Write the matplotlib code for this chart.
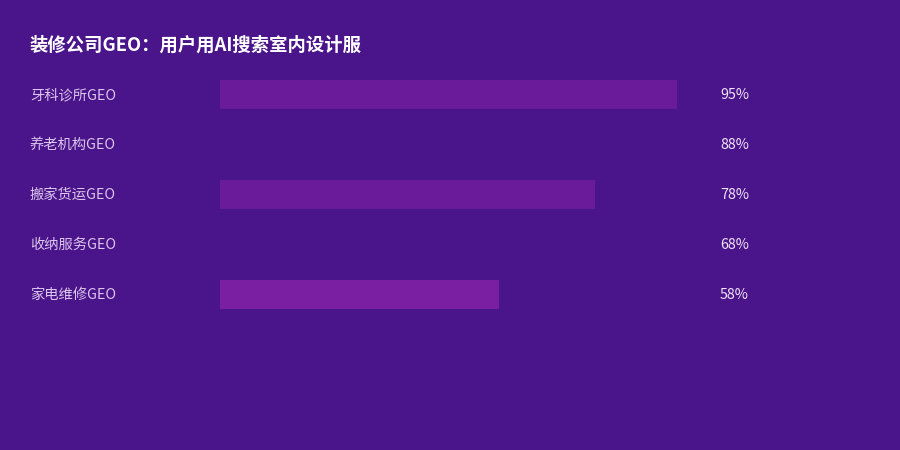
import matplotlib
matplotlib.use("Agg")
import matplotlib.pyplot as plt
from matplotlib.transforms import blended_transform_factory

plt.rcParams['font.family'] = ['Noto Sans CJK SC', 'DejaVu Sans']

title = "装修公司GEO：用户用AI搜索室内设计服"
categories = ["牙科诊所GEO", "养老机构GEO", "搬家货运GEO", "收纳服务GEO", "家电维修GEO"]
values = [95, 88, 78, 68, 58]

bg = "#4a148a"
# rows 2 and 4 share the background colour, so they vanish
bar_colors = ["#6a1b9a", bg, "#6a1b9a", bg, "#7b1fa2"]

fig = plt.figure(figsize=(9, 4.5), dpi=100, facecolor=bg)
ax = fig.add_axes([220 / 900, 1 - 319 / 450, 481 / 900, 250 / 450])
ax.set_facecolor(bg)

ypos = list(range(len(categories)))
ax.barh(ypos, values, height=0.58, color=bar_colors)
ax.set_xlim(0, 100)
ax.set_ylim(len(categories) - 0.5, -0.5)
ax.axis("off")

tr = blended_transform_factory(fig.transFigure, ax.transData)
for y, cat, v in zip(ypos, categories, values):
    ax.text(30 / 900, y + 0.02, cat, transform=tr, ha="left", va="center",
            fontsize=10.3, color="#dcc6ec")
    ax.text(720 / 900, y + 0.02, "{}%".format(v), transform=tr, ha="left", va="center",
            fontsize=10.3, color="#f0e4f7")

fig.text(30 / 900, 1 - 45 / 450, title, ha="left", va="center",
         fontsize=13.2, fontweight="bold", color="white")

fig.savefig("out.png", dpi=100, facecolor=bg)
